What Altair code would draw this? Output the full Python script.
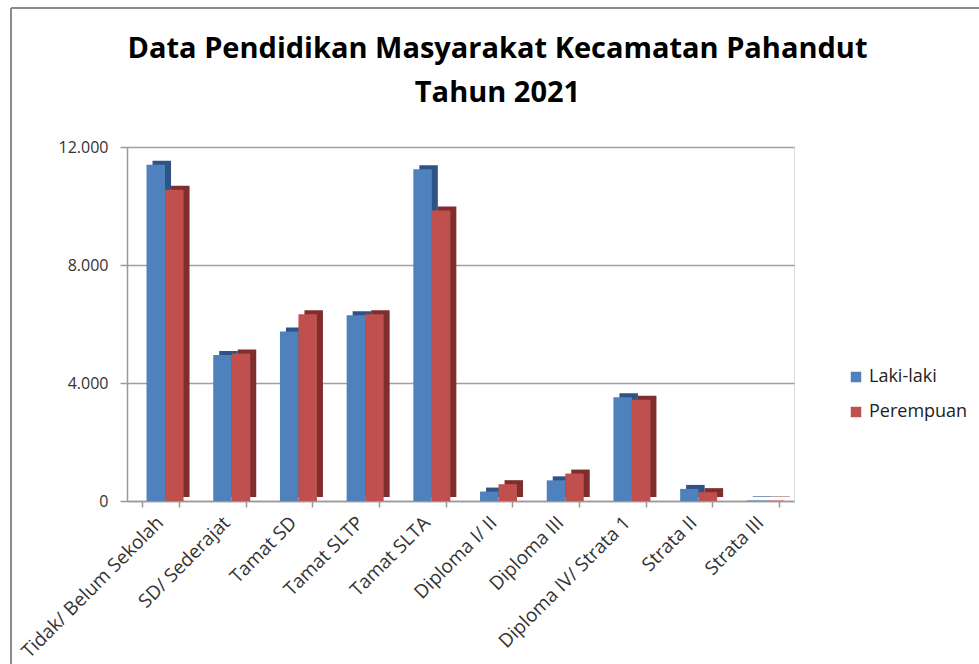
import altair as alt
import pandas as pd

categories = ["Tidak/ Belum Sekolah", "SD/ Sederajat", "Tamat SD", "Tamat SLTP",
              "Tamat SLTA", "Diploma I/ II", "Diploma III", "Diploma IV/ Strata 1",
              "Strata II", "Strata III"]
laki = [11400, 4950, 5750, 6300, 11250, 320, 700, 3520, 410, 20]
perempuan = [10550, 5000, 6330, 6330, 9850, 570, 930, 3430, 300, 15]
series = ["Laki-laki", "Perempuan"]
front_colors = ["#4F81BD", "#C0504D"]
side_colors = ["#2E5386", "#7E2E2C"]
y_ticks = [0, 4000, 8000, 12000]

rows = []
for c, l, p in zip(categories, laki, perempuan):
    rows.append({"Kategori": c, "Jenis": series[0], "Jumlah": l})
    rows.append({"Kategori": c, "Jenis": series[1], "Jumlah": p})
df = pd.DataFrame(rows)

FONT = "Open Sans"

x_enc = alt.X("Kategori:N", sort=categories,
              scale=alt.Scale(paddingInner=0.445, paddingOuter=0.2225),
              axis=alt.Axis(title=None, labelAngle=-45, labelAlign="right",
                            labelFontSize=19, labelFont=FONT, labelColor="#333",
                            labelLimit=400, labelOffset=-7,
                            tickBand="extent", domainColor="#999", tickColor="#999",
                            domainWidth=1.5, tickWidth=1.5, tickSize=6, labelPadding=6))
y_enc = alt.Y("Jumlah:Q", scale=alt.Scale(domain=[0, 12000]),
              axis=alt.Axis(title=None, values=y_ticks,
                            labelExpr="replace(format(datum.value, ',.0f'), ',', '.')",
                            grid=True, gridColor="#a0a0a0", gridWidth=1.5,
                            domainColor="#999", domainWidth=1.5, tickColor="#999",
                            tickWidth=1.5, tickSize=7, labelPadding=12,
                            labelFontSize=16, labelFont=FONT, labelColor="#333"))

side = alt.Chart(df).mark_bar(yOffset=-4, y2Offset=-4).encode(
    x=x_enc, y=y_enc,
    xOffset=alt.XOffset("Jenis:N", sort=series, scale=alt.Scale(range=[10.7, 47.7])),
    color=alt.Color("Jenis:N", sort=series,
                    scale=alt.Scale(domain=series, range=side_colors), legend=None))

front = alt.Chart(df).mark_bar().encode(
    x=x_enc, y=y_enc,
    xOffset=alt.XOffset("Jenis:N", sort=series, scale=alt.Scale(range=[4.7, 41.7])),
    color=alt.Color("Jenis:N", sort=series,
                    scale=alt.Scale(domain=series, range=front_colors),
                    legend=alt.Legend(title=None, orient="none", legendX=720, legendY=221,
                                      symbolType="square", symbolSize=110,
                                      symbolStrokeWidth=0, labelFontSize=18,
                                      labelFont=FONT, labelColor="#222",
                                      rowPadding=17)))

one = pd.DataFrame({"a": [0]})
frame_left = alt.Chart(one).mark_rule(color="#8c8c8c", strokeWidth=2).encode(
    x=alt.value(-116), y=alt.value(-139), y2=alt.value(520))
frame_top = alt.Chart(one).mark_rule(color="#8c8c8c", strokeWidth=2).encode(
    x=alt.value(-116), x2=alt.value(860), y=alt.value(-139))

chart = alt.layer(frame_left, frame_top, side, front).resolve_scale(
    color="independent", xOffset="independent"
).properties(
    width=667, height=354,
    title=alt.TitleParams(["Data Pendidikan Masyarakat Kecamatan Pahandut", "Tahun 2021"],
                          fontSize=29, font=FONT, fontWeight="bold", color="black",
                          anchor="middle", dx=37, offset=-101, lineHeight=44),
    autosize=alt.AutoSizeParams(type="none"),
    padding={"left": 127, "top": 147, "right": 185, "bottom": 163},
).configure_view(stroke=None).configure(background="white")

chart.save("out.html", embed_options={"renderer": "svg", "actions": False})
